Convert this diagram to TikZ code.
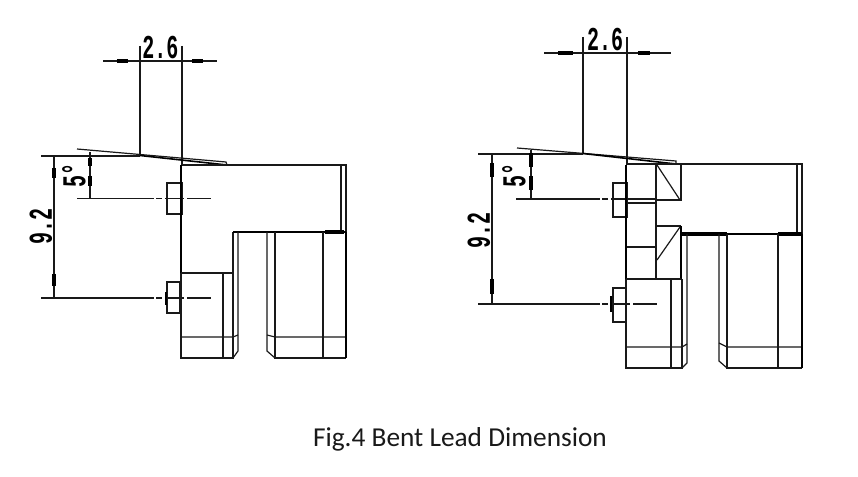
\documentclass[tikz,border=0pt]{standalone}
\usepackage{fontspec}
\setmainfont{Carlito}
\newfontfamily\cadfont{Liberation Mono}
\def\axisrun(#1:#2:#3){\draw[thinline] (#1, #3) -- (#2, #3) (#2+2, #3) -- (#2+8, #3) (#2+11, #3) -- (#2+30, #3) (#2+33, #3) -- (#2+57, #3);}
\tikzset{
	thinline/.style={line width=0.9pt, color=black!90},
	heavyline/.style={line width=1.8pt, color=black},
	arrowbar/.style={line width=3pt, color=black},
	dimtext/.style={inner sep=0pt, color=black, font=\cadfont\bfseries\fontsize{25}{25}\selectfont, xscale=0.6},
	dimside/.style={inner sep=0pt, color=black, font=\cadfont\bfseries\fontsize{25}{25}\selectfont, rotate=90, xscale=0.6}
}
\begin{document}
\begin{tikzpicture}[x=0.75pt, y=-0.75pt]
			%%%%% START %%%%%
			\useasboundingbox (0, 0) rectangle (858, 477);
			
			% left part, dimensions
			\draw[thinline] (103, 61) -- (217, 61);
			\draw[arrowbar] (117, 61) -- (128, 61);
			\draw[arrowbar] (192, 61) -- (203, 61);
			\draw[thinline] (140, 46) -- (140, 155);
			\draw[thinline] (182, 46) -- (182, 165);
			\node[dimtext] (leftwidth) at (160.5, 48) {2.6};
			
			\draw[thinline] (41, 156) -- (140, 156);
			\draw[thinline] (54, 156) -- (54, 298);
			\draw[arrowbar] (54, 168) -- (54, 178);
			\draw[arrowbar] (54, 274) -- (54, 286);
			\node[dimside] (leftheight) at (41, 226) {9.2};
			
			\draw[thinline] (90, 152) -- (90, 198);
			\draw[arrowbar] (90, 158) -- (90, 166);
			\draw[arrowbar] (90, 176) -- (90, 186);
			\node[dimside] (leftangle) at (74, 176) {5°};
			\axisrun(77:154:198.5)
			\axisrun(41:154:298)
			
			% left part, lead
			\draw[thinline] (77, 149) -- (226, 162) -- (227, 165);
			\draw[heavyline, line width=1.2pt] (227, 165) -- (140, 155.5);
			\draw[thinline] (167, 183) rectangle (182, 214);
			\draw[thinline] (167, 282) rectangle (180, 313);
			\draw[heavyline] (166, 292) -- (166, 305);
			
			% left part, body
			\draw[thinline] (182, 165) -- (346, 165) -- (346, 232);
			\draw[thinline] (341, 165) -- (341, 232);
			\draw[heavyline] (181, 165) -- (181, 273);
			\draw[thinline] (181, 273) -- (233, 273) -- (233, 232);
			\draw[heavyline] (233, 232) -- (346, 232);
			\draw[arrowbar, line width=2.2pt] (233, 232) -- (277, 232);
			\draw[arrowbar] (325, 232.5) -- (344, 232.5);
			\draw[thinline] (181, 273) -- (181, 358) -- (233, 358) -- (233, 273);
			\draw[thinline] (223, 273) -- (223, 358);
			\draw[thinline] (181, 337) -- (233, 337) -- (238, 335);
			\draw[thinline] (238, 232) -- (238, 351) -- (233, 358);
			\draw[thinline] (267, 232) -- (267, 351) -- (275, 358);
			\draw[thinline] (267, 335) -- (275, 337) -- (346, 337);
			\draw[thinline] (275, 232) -- (275, 358) -- (346, 358);
			\draw[thinline] (323, 232) -- (323, 358);
			\draw[heavyline] (346, 232) -- (346, 358);
			
			% right part, dimensions
			\draw[thinline] (544, 53) -- (671, 53);
			\draw[arrowbar] (558, 53) -- (573, 53);
			\draw[arrowbar] (638, 53) -- (650, 53);
			\draw[thinline] (583, 37) -- (583, 153);
			\draw[thinline] (627, 37) -- (627, 165);
			\node[dimtext] (rightwidth) at (605, 39.5) {2.6};
			
			\draw[thinline] (478, 154) -- (583, 154);
			\draw[thinline] (492, 154) -- (492, 304);
			\draw[arrowbar] (492, 163) -- (492, 177);
			\draw[arrowbar] (492, 279) -- (492, 294);
			\node[dimside] (rightheight) at (479, 230) {9.2};
			
			\draw[thinline] (531, 150) -- (531, 199);
			\draw[arrowbar] (531, 153) -- (531, 167);
			\draw[arrowbar] (531, 176) -- (531, 190);
			\node[dimside] (rightangle) at (514, 176) {5°};
			\draw[thinline] (516, 199) -- (600, 199) (602, 199) -- (608, 199) (611, 199) -- (656, 199);
			\axisrun(478:600:304)
			
			% right part, lead
			\draw[thinline] (517, 148) -- (676, 161) -- (676, 164);
			\draw[heavyline, line width=1.2pt] (676, 164) -- (583, 153.5);
			\draw[thinline] (613, 183) rectangle (627, 217);
			\draw[thinline] (613, 288) rectangle (626, 322);
			\draw[heavyline] (611, 296) -- (611, 312);
			
			% right part, body
			\draw[thinline] (627, 164) -- (802, 164) -- (802, 234);
			\draw[thinline] (797, 164) -- (797, 234);
			\draw[heavyline] (626, 165) -- (626, 279);
			\draw[thinline] (656, 164) -- (656, 279);
			\draw[thinline] (681, 164) -- (681, 200) -- (656, 200);
			\draw[thinline] (627, 203) -- (656, 203);
			\draw[thinline] (657, 165) -- (680, 200);
			\draw[thinline] (656, 226) -- (681, 226);
			\draw[heavyline] (681, 226) -- (681, 279);
			\draw[thinline] (680, 227) -- (657, 260);
			\draw[thinline] (627, 247) -- (656, 247);
			\draw[thinline] (626, 279) -- (681, 279);
			\draw[heavyline] (681, 234) -- (802, 234);
			\draw[arrowbar] (682, 234) -- (727, 234);
			\draw[arrowbar] (778, 234) -- (802, 234);
			\draw[thinline] (626, 279) -- (626, 368) -- (682, 368) -- (682, 279);
			\draw[thinline] (671, 279) -- (671, 368);
			\draw[thinline] (626, 347) -- (682, 347) -- (687, 344);
			\draw[thinline] (687, 234) -- (687, 363) -- (682, 368);
			\draw[thinline] (719, 234) -- (719, 361) -- (727, 368);
			\draw[thinline] (719, 343) -- (727, 347) -- (802, 347);
			\draw[thinline] (727, 234) -- (727, 368) -- (802, 368);
			\draw[thinline] (778, 234) -- (778, 368);
			\draw[heavyline] (802, 234) -- (802, 368);
			
			\node[inner sep=0pt, font=\fontsize{20.5}{20.5}\selectfont, color=black!90] (caption) at (460, 439.5) {Fig.4 Bent Lead Dimension};
			%%%%% END %%%%%
		\end{tikzpicture}
\end{document}
